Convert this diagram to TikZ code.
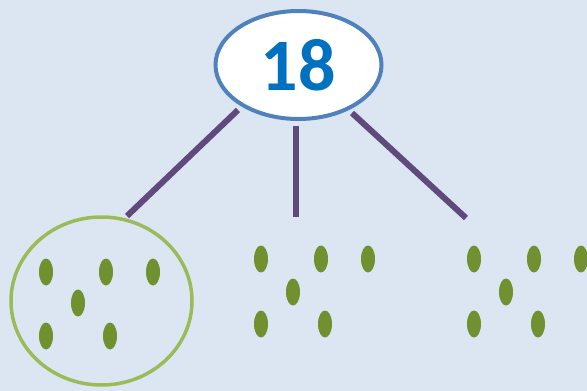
\documentclass[tikz,border=0pt]{standalone}
\usepackage{fontspec}
\setmainfont{Carlito}
\usetikzlibrary{shapes.geometric}
\definecolor{bg}{HTML}{DCE6F2}
\definecolor{topborder}{HTML}{4F81BD}
\definecolor{numblue}{HTML}{0070C0}
\definecolor{linkpurple}{HTML}{604A7B}
\definecolor{ringgreen}{HTML}{9BBB59}
\definecolor{dotgreen}{HTML}{71902F}
\tikzset{
  topnode/.style={ellipse, draw=topborder, line width=4pt, fill=white, minimum width=166pt, minimum height=108pt, inner sep=0pt, text=numblue, font=\fontsize{74}{74}\selectfont\bfseries},
  ring/.style={ellipse, draw=ringgreen, line width=3.5pt, minimum width=181pt, minimum height=168pt, inner sep=0pt},
  link/.style={draw=linkpurple, line width=6pt},
  seed/.style={ellipse, fill=dotgreen, minimum width=14pt, minimum height=27pt, inner sep=0pt}
}
\begin{document}
\begin{tikzpicture}[x=1pt,y=-1pt]
\useasboundingbox[fill=bg] (0,0) rectangle (587,391);
\node[topnode] (top) at (298.5,65) {18};
\node[ring] (grp) at (101.5,301) {};
\coordinate (l1a) at (238,110); \coordinate (l1b) at (127,216);
\coordinate (l2a) at (296,126); \coordinate (l2b) at (296,217);
\coordinate (l3a) at (352,113); \coordinate (l3b) at (466,218);
\draw[link] (l1a) -- (l1b);
\draw[link] (l2a) -- (l2b);
\draw[link] (l3a) -- (l3b);
% group 1
\node[seed] (a1) at (46,272) {};
\node[seed] (a2) at (106,272) {};
\node[seed] (a3) at (153,272) {};
\node[seed] (a4) at (78,303) {};
\node[seed] (a5) at (46,336) {};
\node[seed] (a6) at (110,336) {};
% group 2
\node[seed] (b1) at (261,259) {};
\node[seed] (b2) at (321,259) {};
\node[seed] (b3) at (368,259) {};
\node[seed] (b4) at (293,292) {};
\node[seed] (b5) at (261,324) {};
\node[seed] (b6) at (325,324) {};
% group 3
\node[seed] (c1) at (474,259) {};
\node[seed] (c2) at (534,259) {};
\node[seed] (c3) at (581,259) {};
\node[seed] (c4) at (506,292) {};
\node[seed] (c5) at (474,324) {};
\node[seed] (c6) at (538,324) {};
\end{tikzpicture}
\end{document}
